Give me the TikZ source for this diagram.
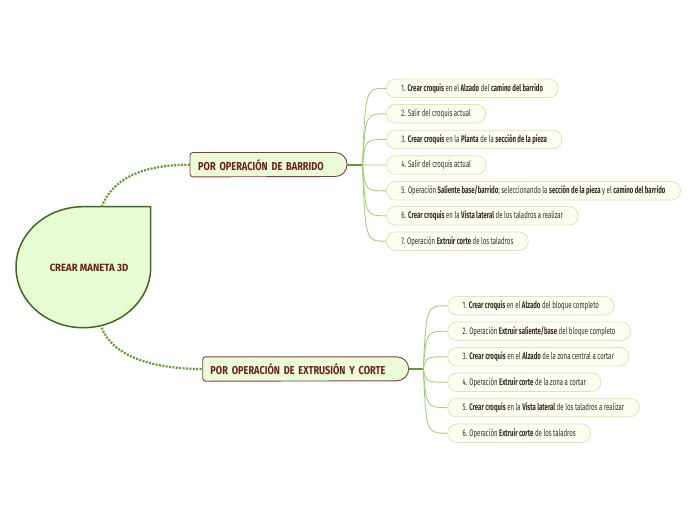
\documentclass[tikz,border=0pt]{standalone}
\usepackage{fontspec}
\setmainfont{Fira Sans}
\newfontfamily\leaffont[FakeStretch=0.635]{Fira Sans}
\newfontfamily\brfont[FakeStretch=0.8]{Fira Sans}
\newfontfamily\cenfont[FakeStretch=0.91]{Fira Sans}
\usetikzlibrary{calc}
\definecolor{lineG}{HTML}{5E9E2E}
\definecolor{leafline}{HTML}{A2D078}
\definecolor{leafbd}{HTML}{EEDDB0}
\definecolor{leaffill}{HTML}{FAFEF1}
\definecolor{brfill}{HTML}{EBFCD9}
\definecolor{brbd}{HTML}{8B3A3A}
\definecolor{maroon}{HTML}{6E1E1E}
\definecolor{cfill}{HTML}{E7FCD3}
\definecolor{cbd}{HTML}{3C6A1C}
\definecolor{leaftext}{HTML}{3A2A22}
\pgfdeclarelayer{bg}
\pgfsetlayers{bg,main}
\begin{document}
\begin{tikzpicture}[x=1pt,y=-1pt,
  leaf/.style={draw=leafbd, fill=leaffill, line width=0.8pt, rounded corners=9pt,
    minimum height=18.5pt, inner xsep=15pt, inner ysep=0pt, anchor=west,
    font=\leaffont\fontsize{9.5}{10}\selectfont, text=leaftext},
  brnode/.style={anchor=west, minimum height=24pt, inner xsep=8pt, inner ysep=0pt,
    align=left, font=\brfont\bfseries\fontsize{11.5}{12}\selectfont, text=maroon},
  brbox/.style={draw=brbd, fill=brfill, line width=0.9pt},
  cenbox/.style={draw=cbd, fill=cfill, line width=1.5pt},
  centext/.style={inner sep=0pt, font=\cenfont\bfseries\fontsize{10.5}{11}\selectfont, text=maroon},
  mainlink/.style={draw=lineG, line width=2.2pt, dash pattern=on 2pt off 1.4pt},
  trunk/.style={draw=lineG, line width=2pt},
  leaflink/.style={draw=leafline, line width=0.9pt}
]
\useasboundingbox (0,0) rectangle (696,520);

% central node
\node[centext] (c) at (89,267.5) {CREAR MANETA 3D};
\coordinate (ctop) at (101.7,206.7);
\coordinate (cbot) at (101.7,327.7);

% branch nodes
\node[brnode, text width=140.7pt] (b1) at (190,164.7) {POR OPERACIÓN DE BARRIDO};
\node[brnode, text width=190.6pt, inner xsep=7.5pt] (b2) at (202.7,369) {POR OPERACIÓN DE EXTRUSIÓN Y CORTE};

\coordinate (h1) at (362.5,164.7);
\coordinate (h2) at (423.3,369);

% leaves of branch 1
\node[leaf] (l11) at (386,88.3) {1. \textbf{Crear croquis} en el \textbf{Alzado} del \textbf{camino del barrido}};
\node[leaf] (l12) at (386,113.8) {2. Salir del croquis actual};
\node[leaf] (l13) at (386,139.5) {3. \textbf{Crear croquis} en la \textbf{Planta} de la \textbf{sección de la pieza}};
\node[leaf] (l14) at (386,165) {4. Salir del croquis actual};
\node[leaf] (l15) at (386,190.8) {5. Operación \textbf{Saliente base/barrido}; seleccionando la \textbf{sección de la pieza} y el \textbf{camino del barrido}};
\node[leaf] (l16) at (386,215.8) {6. \textbf{Crear croquis} en la \textbf{Vista lateral} de los taladros a realizar};
\node[leaf] (l17) at (386,241.2) {7. Operación \textbf{Extruir corte} de los taladros};

% leaves of branch 2
\node[leaf] (l21) at (447.3,305.8) {1. \textbf{Crear croquis} en el \textbf{Alzado} del bloque completo};
\node[leaf] (l22) at (447.3,331.2) {2. Operación \textbf{Extruir saliente/base} del bloque completo};
\node[leaf] (l23) at (447.3,356.8) {3. \textbf{Crear croquis} en el \textbf{Alzado} de la zona central a cortar};
\node[leaf] (l24) at (447.3,382.2) {4. Operación \textbf{Extruir corte} de la zona a cortar};
\node[leaf] (l25) at (447.3,407.5) {5. \textbf{Crear croquis} en la \textbf{Vista lateral} de los taladros a realizar};
\node[leaf] (l26) at (447.3,433.2) {6. Operación \textbf{Extruir corte} de los taladros};

\begin{pgfonlayer}{bg}
  \fill[white] (0,0) rectangle (696,520);
  % teardrop
  \path[cenbox] (150.7,206.7) -- (83.35,206.7)
    .. controls (46.15,206.7) and (16,233.8) .. (16,267.2)
    .. controls (16,300.6) and (46.15,327.7) .. (83.35,327.7)
    .. controls (120.55,327.7) and (150.7,300.6) .. (150.7,267.2) -- cycle;
  % branch boxes
  \foreach \b in {b1,b2}{
    \path[brbox] ($(\b.north west)+(3,0)$) -- ($(\b.north east)+(-12,0)$)
      arc[start angle=90,end angle=-90,radius=12pt]
      -- ($(\b.south west)+(3,0)$)
      arc[start angle=270,end angle=180,radius=3pt]
      -- ($(\b.north west)+(0,3)$)
      arc[start angle=180,end angle=90,radius=3pt] -- cycle;
  }
  % main links
  \draw[mainlink] (ctop) .. controls (112,180) and (140,164.7) .. (b1.west);
  \draw[mainlink] (cbot) .. controls (112,355) and (150,369) .. (b2.west);
  \draw[trunk] (b1.east) -- (h1);
  \draw[trunk] (b2.east) -- (h2);
  % leaf links
  \foreach \l in {l11,l12,l13,l14,l15,l16,l17}{
    \draw[leaflink] (h1) .. controls ($(h1|-\l.west)+(3,0)$) .. (\l.west);
  }
  \foreach \l in {l21,l22,l23,l24,l25,l26}{
    \draw[leaflink] (h2) .. controls ($(h2|-\l.west)+(3,0)$) .. (\l.west);
  }
\end{pgfonlayer}
\end{tikzpicture}
\end{document}
